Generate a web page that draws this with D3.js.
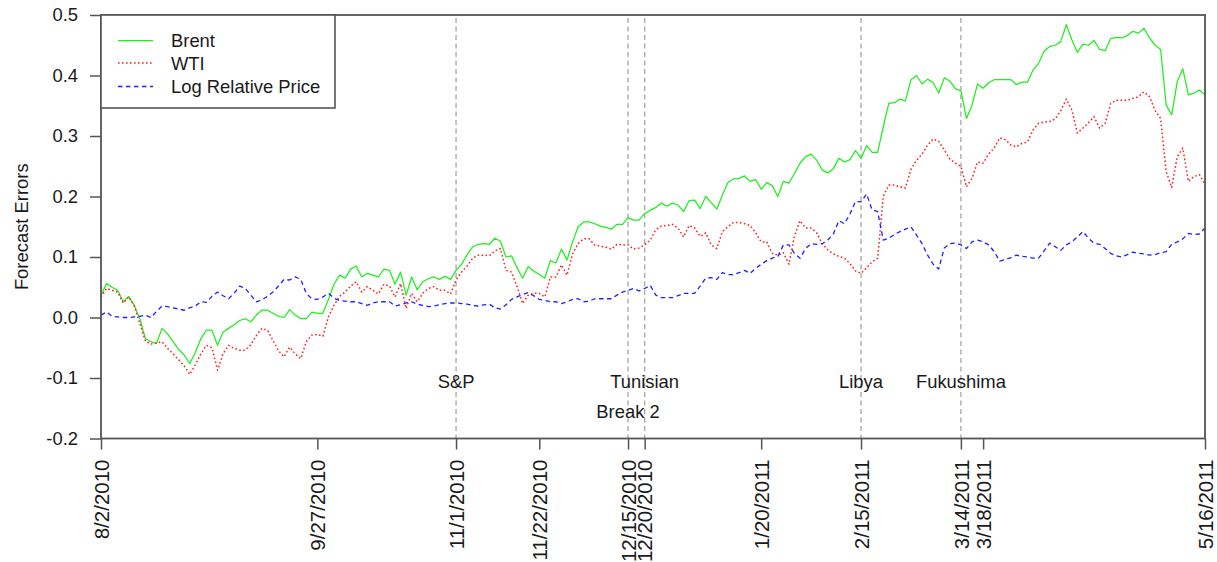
<!DOCTYPE html>
<html>
<head>
<meta charset="utf-8">
<script src="https://cdn.jsdelivr.net/npm/d3@7"></script>
<style>
  html, body { margin: 0; padding: 0; background: #fff; }
  svg { display: block; font-family: "Liberation Sans", Arial, sans-serif; }
</style>
</head>
<body>
<svg id="chart" width="1217" height="562"></svg>
<script>
// ---- Data (trading-day index 0..199 from 8/2/2010 to 5/16/2011) ----
const brent = [
  0.037,0.056,0.050,0.045,0.026,0.035,0.020,-0.002,-0.035,-0.040,
  -0.043,-0.018,-0.027,-0.040,-0.053,-0.062,-0.076,-0.058,-0.035,-0.021,
  -0.021,-0.046,-0.024,-0.018,-0.012,-0.005,-0.002,-0.007,0.004,0.012,
  0.012,0.007,0.002,0.000,0.013,0.004,-0.002,-0.002,0.009,0.007,
  0.007,0.030,0.055,0.070,0.065,0.080,0.085,0.067,0.073,0.070,
  0.067,0.080,0.078,0.055,0.075,0.037,0.067,0.046,0.059,0.064,
  0.067,0.063,0.068,0.063,0.078,0.088,0.104,0.117,0.121,0.122,
  0.121,0.131,0.126,0.100,0.102,0.082,0.065,0.084,0.077,0.071,
  0.065,0.094,0.090,0.113,0.095,0.125,0.150,0.158,0.158,0.155,
  0.151,0.149,0.146,0.154,0.154,0.165,0.161,0.161,0.172,0.177,
  0.182,0.189,0.184,0.189,0.186,0.175,0.193,0.194,0.180,0.200,
  0.190,0.179,0.202,0.223,0.229,0.230,0.234,0.225,0.228,0.212,
  0.223,0.218,0.200,0.225,0.222,0.238,0.255,0.266,0.270,0.260,
  0.244,0.239,0.246,0.263,0.257,0.261,0.276,0.263,0.284,0.273,
  0.273,0.315,0.354,0.355,0.361,0.358,0.393,0.400,0.386,0.394,
  0.388,0.371,0.396,0.391,0.378,0.375,0.329,0.351,0.386,0.379,
  0.388,0.393,0.393,0.393,0.393,0.385,0.389,0.389,0.409,0.420,
  0.440,0.448,0.450,0.456,0.484,0.459,0.438,0.452,0.450,0.458,
  0.443,0.441,0.461,0.463,0.462,0.466,0.473,0.470,0.478,0.462,
  0.450,0.443,0.351,0.335,0.390,0.411,0.368,0.371,0.376,0.368
];
const wti = [
  0.034,0.048,0.045,0.042,0.024,0.034,0.019,-0.010,-0.039,-0.044,
  -0.042,-0.040,-0.051,-0.060,-0.070,-0.080,-0.094,-0.078,-0.060,-0.046,
  -0.050,-0.087,-0.060,-0.046,-0.051,-0.054,-0.054,-0.045,-0.030,-0.018,
  -0.021,-0.038,-0.055,-0.065,-0.049,-0.060,-0.068,-0.040,-0.029,-0.028,
  -0.031,0.001,0.020,0.035,0.042,0.052,0.059,0.042,0.051,0.045,
  0.039,0.055,0.052,0.034,0.056,0.015,0.040,0.026,0.040,0.048,
  0.051,0.045,0.045,0.039,0.062,0.075,0.085,0.098,0.103,0.103,
  0.102,0.110,0.114,0.078,0.075,0.051,0.023,0.037,0.040,0.040,
  0.034,0.067,0.067,0.087,0.070,0.105,0.122,0.130,0.130,0.120,
  0.118,0.116,0.113,0.121,0.120,0.120,0.113,0.115,0.120,0.128,
  0.145,0.151,0.152,0.154,0.148,0.133,0.152,0.148,0.134,0.140,
  0.120,0.114,0.142,0.150,0.157,0.157,0.155,0.152,0.140,0.125,
  0.125,0.106,0.103,0.107,0.088,0.135,0.160,0.148,0.148,0.140,
  0.122,0.112,0.105,0.101,0.098,0.089,0.077,0.073,0.082,0.092,
  0.098,0.200,0.219,0.219,0.216,0.214,0.245,0.260,0.270,0.285,
  0.295,0.291,0.277,0.262,0.255,0.250,0.216,0.230,0.257,0.255,
  0.270,0.280,0.297,0.294,0.285,0.282,0.288,0.290,0.310,0.321,
  0.323,0.324,0.328,0.342,0.361,0.343,0.305,0.313,0.322,0.332,
  0.313,0.321,0.354,0.359,0.359,0.359,0.362,0.365,0.373,0.365,
  0.342,0.329,0.241,0.215,0.266,0.280,0.225,0.233,0.236,0.220
];
const logRelPrice = [
  0.004,0.009,0.002,0.001,0.000,0.000,0.001,0.002,0.004,0.000,
  0.010,0.019,0.018,0.016,0.014,0.012,0.016,0.019,0.026,0.025,
  0.035,0.042,0.036,0.031,0.040,0.052,0.048,0.037,0.026,0.029,
  0.035,0.042,0.052,0.063,0.062,0.067,0.063,0.040,0.031,0.030,
  0.034,0.040,0.032,0.028,0.027,0.026,0.026,0.023,0.020,0.024,
  0.026,0.026,0.026,0.019,0.021,0.024,0.026,0.022,0.020,0.018,
  0.019,0.021,0.023,0.024,0.024,0.023,0.022,0.020,0.019,0.021,
  0.022,0.016,0.014,0.021,0.030,0.034,0.038,0.041,0.036,0.030,
  0.028,0.026,0.026,0.023,0.026,0.030,0.031,0.026,0.027,0.031,
  0.031,0.031,0.031,0.037,0.042,0.045,0.048,0.044,0.048,0.053,
  0.037,0.033,0.033,0.033,0.036,0.040,0.040,0.040,0.052,0.065,
  0.066,0.063,0.074,0.071,0.071,0.074,0.078,0.073,0.081,0.088,
  0.094,0.098,0.101,0.120,0.120,0.106,0.098,0.114,0.122,0.121,
  0.122,0.128,0.138,0.160,0.155,0.171,0.192,0.191,0.204,0.178,
  0.175,0.128,0.131,0.137,0.142,0.146,0.150,0.136,0.122,0.103,
  0.088,0.080,0.115,0.122,0.123,0.120,0.114,0.125,0.128,0.125,
  0.120,0.109,0.093,0.096,0.099,0.103,0.101,0.100,0.098,0.098,
  0.110,0.123,0.117,0.111,0.120,0.125,0.133,0.142,0.131,0.123,
  0.121,0.114,0.106,0.102,0.100,0.104,0.108,0.106,0.105,0.103,
  0.104,0.107,0.109,0.121,0.125,0.130,0.139,0.137,0.138,0.148
];
const seriesNames = ["Brent", "WTI", "Log Relative Price"];
const xTickIndex = [0, 39, 64, 79, 95, 98, 119, 137, 155, 159, 199];
const xTickLabels = ["8/2/2010","9/27/2010","11/1/2010","11/22/2010","12/15/2010","12/20/2010","1/20/2011","2/15/2011","3/14/2011","3/18/2011","5/16/2011"];
const yTicks = [-0.2, -0.1, 0.0, 0.1, 0.2, 0.3, 0.4, 0.5];
const yTickLabels = ["-0.2", "-0.1", "0.0", "0.1", "0.2", "0.3", "0.4", "0.5"];
const eventIndex = [64, 95, 98, 137, 155];
const eventLabels = ["S&P", "Break 2", "Tunisian", "Libya", "Fukushima"];
const eventLabelY = [-0.1, -0.15, -0.1, -0.1, -0.1];
const nDays = 199;

(function () {
  // ---- Layout ----
  const svg = d3.select("#chart");
  const pL = 101, pR = 1205, pT = 15, pB = 438.5;
  const x = d3.scaleLinear().domain([0, nDays]).range([pL, pR]);
  const y = d3.scaleLinear().domain([-0.2, 0.5]).range([pB, pT]);
  const fontSize = 18.4;
  const xFontSize = 20.5;
  const textColor = "#1a1a1a";
  const axisColor = "#555";

  // event vertical lines
  svg.append("g").selectAll("line").data(eventIndex).join("line")
    .attr("x1", d => x(d)).attr("x2", d => x(d))
    .attr("y1", pT + 3).attr("y2", pB)
    .attr("stroke", "#a6a6a6").attr("stroke-width", 1.3)
    .attr("stroke-dasharray", "5,3.5");

  // lines
  const days = d3.range(brent.length);
  const lineGen = vals => d3.line().x((d, i) => x(days[i])).y(d => y(d))(vals);
  const styles = [
    {data: brent, color: "#1fee1f", dash: null, width: 1.25},
    {data: wti, color: "#ff2020", dash: "1.6,2.4", width: 1.5},
    {data: logRelPrice, color: "#2020ff", dash: "4.5,3.5", width: 1.3}
  ];
  svg.append("g").selectAll("path").data(styles).join("path")
    .attr("d", s => lineGen(s.data))
    .attr("fill", "none")
    .attr("stroke", s => s.color)
    .attr("stroke-width", s => s.width)
    .attr("stroke-dasharray", s => s.dash)
    .attr("stroke-linejoin", "round");

  // Y axis
  const yAxis = d3.axisLeft(y).tickValues(yTicks).tickFormat((d, i) => yTickLabels[i])
    .tickSize(11).tickPadding(12);
  const gy = svg.append("g").attr("transform", `translate(${pL},0)`).call(yAxis);
  gy.select(".domain").remove();
  gy.selectAll(".tick line").attr("stroke", axisColor).attr("stroke-width", 1.5);
  gy.selectAll(".tick text").attr("font-size", fontSize).attr("fill", textColor)
    .attr("font-family", "Liberation Sans, Arial, sans-serif");

  // X axis
  const xAxis = d3.axisBottom(x).tickValues(xTickIndex)
    .tickFormat((d, i) => xTickLabels[i]).tickSize(11);
  const gx = svg.append("g").attr("transform", `translate(0,${pB})`).call(xAxis);
  gx.select(".domain").remove();
  gx.selectAll(".tick line").attr("stroke", axisColor).attr("stroke-width", 1.5);
  gx.selectAll(".tick text")
    .attr("font-size", xFontSize).attr("fill", textColor)
    .attr("font-family", "Liberation Sans, Arial, sans-serif")
    .attr("text-anchor", "end")
    .attr("transform", "rotate(-90)")
    .attr("x", -21).attr("y", 0).attr("dy", "0.35em");

  // Plot frame
  svg.append("rect").attr("x", pL).attr("y", pT)
    .attr("width", pR - pL).attr("height", pB - pT)
    .attr("fill", "none").attr("stroke", axisColor).attr("stroke-width", 1.8);

  // Y title
  svg.append("text")
    .attr("transform", `translate(28,${(pT + pB) / 2}) rotate(-90)`)
    .attr("text-anchor", "middle")
    .attr("font-size", fontSize).attr("fill", textColor)
    .text("Forecast Errors");

  // Event labels
  svg.append("g").selectAll("text").data(eventIndex).join("text")
    .attr("x", d => x(d)).attr("y", (d, i) => y(eventLabelY[i]) + 9.5)
    .attr("text-anchor", "middle")
    .attr("font-size", fontSize).attr("fill", textColor)
    .text((d, i) => eventLabels[i]);

  // Legend
  const lg = svg.append("g");
  lg.append("rect").attr("x", pL).attr("y", pT).attr("width", 234).attr("height", 93)
    .attr("fill", "#fff").attr("stroke", axisColor).attr("stroke-width", 1.6);
  const rowY = [40.5, 63, 86.5];
  lg.selectAll("line.leg").data(styles).join("line").attr("class", "leg")
    .attr("x1", 118).attr("x2", 153)
    .attr("y1", (d, i) => rowY[i]).attr("y2", (d, i) => rowY[i])
    .attr("stroke", s => s.color).attr("stroke-width", s => s.width)
    .attr("stroke-dasharray", s => s.dash);
  lg.selectAll("text").data(seriesNames).join("text")
    .attr("x", 171).attr("y", (d, i) => rowY[i] + 6.6)
    .attr("font-size", fontSize).attr("fill", textColor)
    .text(d => d);
})();
</script>
</body>
</html>
